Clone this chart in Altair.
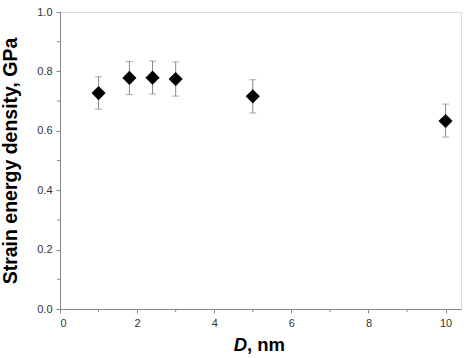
import altair as alt
import pandas as pd

D = [1.0, 1.8, 2.4, 3.0, 5.0, 10.0]
energy = [0.727, 0.778, 0.779, 0.774, 0.716, 0.633]
err_lo = [0.673, 0.722, 0.724, 0.717, 0.660, 0.579]
err_hi = [0.782, 0.833, 0.835, 0.832, 0.772, 0.690]

df = pd.DataFrame({"D": D, "E": energy, "lo": err_lo, "hi": err_hi})

xs = alt.Scale(domain=[0, 10.4], nice=False, zero=False)
ys = alt.Scale(domain=[0, 1.0], nice=False)

xaxis = alt.Axis(values=[0, 2, 4, 6, 8, 10], format="d", title=None, grid=False,
                 labelFont="Liberation Sans", labelFontSize=11, labelColor="#333",
                 domainColor="#888", tickColor="#888", tickSize=4, labelPadding=4)
yaxis = alt.Axis(values=[0, 0.2, 0.4, 0.6, 0.8, 1.0], format=".1f",
                 title="Strain energy density, GPa", grid=False,
                 titleFont="Liberation Sans", titleFontSize=19.5, titleFontWeight="bold",
                 titleColor="#000", titlePadding=16,
                 labelFont="Liberation Sans", labelFontSize=11, labelColor="#333",
                 domainColor="#888", tickColor="#888", tickSize=4, labelPadding=4)

base = alt.Chart(df)

bars = base.mark_rule(color="#888", strokeWidth=1).encode(
    x=alt.X("D:Q", scale=xs, axis=xaxis),
    y=alt.Y("lo:Q", scale=ys, axis=yaxis),
    y2="hi:Q",
)
caps_lo = base.mark_tick(orient="horizontal", color="#888", size=7, thickness=1).encode(
    x=alt.X("D:Q", scale=xs), y=alt.Y("lo:Q", scale=ys))
caps_hi = base.mark_tick(orient="horizontal", color="#888", size=7, thickness=1).encode(
    x=alt.X("D:Q", scale=xs), y=alt.Y("hi:Q", scale=ys))
pts = base.mark_point(shape="diamond", filled=True, color="#000", size=200, opacity=1).encode(
    x=alt.X("D:Q", scale=xs), y=alt.Y("E:Q", scale=ys))

# minor ticks
minor_x = pd.DataFrame({"v": [1, 3, 5, 7, 9]})
minor_y = pd.DataFrame({"v": [0.1, 0.3, 0.5, 0.7, 0.9]})
mx = alt.Chart(minor_x).mark_rule(color="#888").encode(
    x=alt.X("v:Q", scale=xs), y=alt.value(297), y2=alt.value(300))
my = alt.Chart(minor_y).mark_rule(color="#888").encode(
    y=alt.Y("v:Q", scale=ys), x=alt.value(0), x2=alt.value(-3))

title_df = pd.DataFrame({"t": ["D"], "u": [", nm"]})
tD = alt.Chart(title_df).mark_text(font="Liberation Sans", fontSize=18.5, fontWeight="bold",
                                   fontStyle="italic", align="right", baseline="alphabetic").encode(
    text="t:N", x=alt.value(187), y=alt.value(339))
tU = alt.Chart(title_df).mark_text(font="Liberation Sans", fontSize=18.5, fontWeight="bold",
                                   align="left", baseline="alphabetic").encode(
    text="u:N", x=alt.value(187), y=alt.value(339))

chart = alt.layer(bars, caps_lo, caps_hi, pts, mx, my, tD, tU).properties(
    width=401, height=297,
    autosize=alt.AutoSizeParams(type="none"),
    padding={"left": 60, "top": 12, "right": 13, "bottom": 49},
).configure_view(stroke="#999", strokeWidth=1).configure(background="white")

chart.save("out.html", embed_options={"renderer": "svg", "actions": False})
